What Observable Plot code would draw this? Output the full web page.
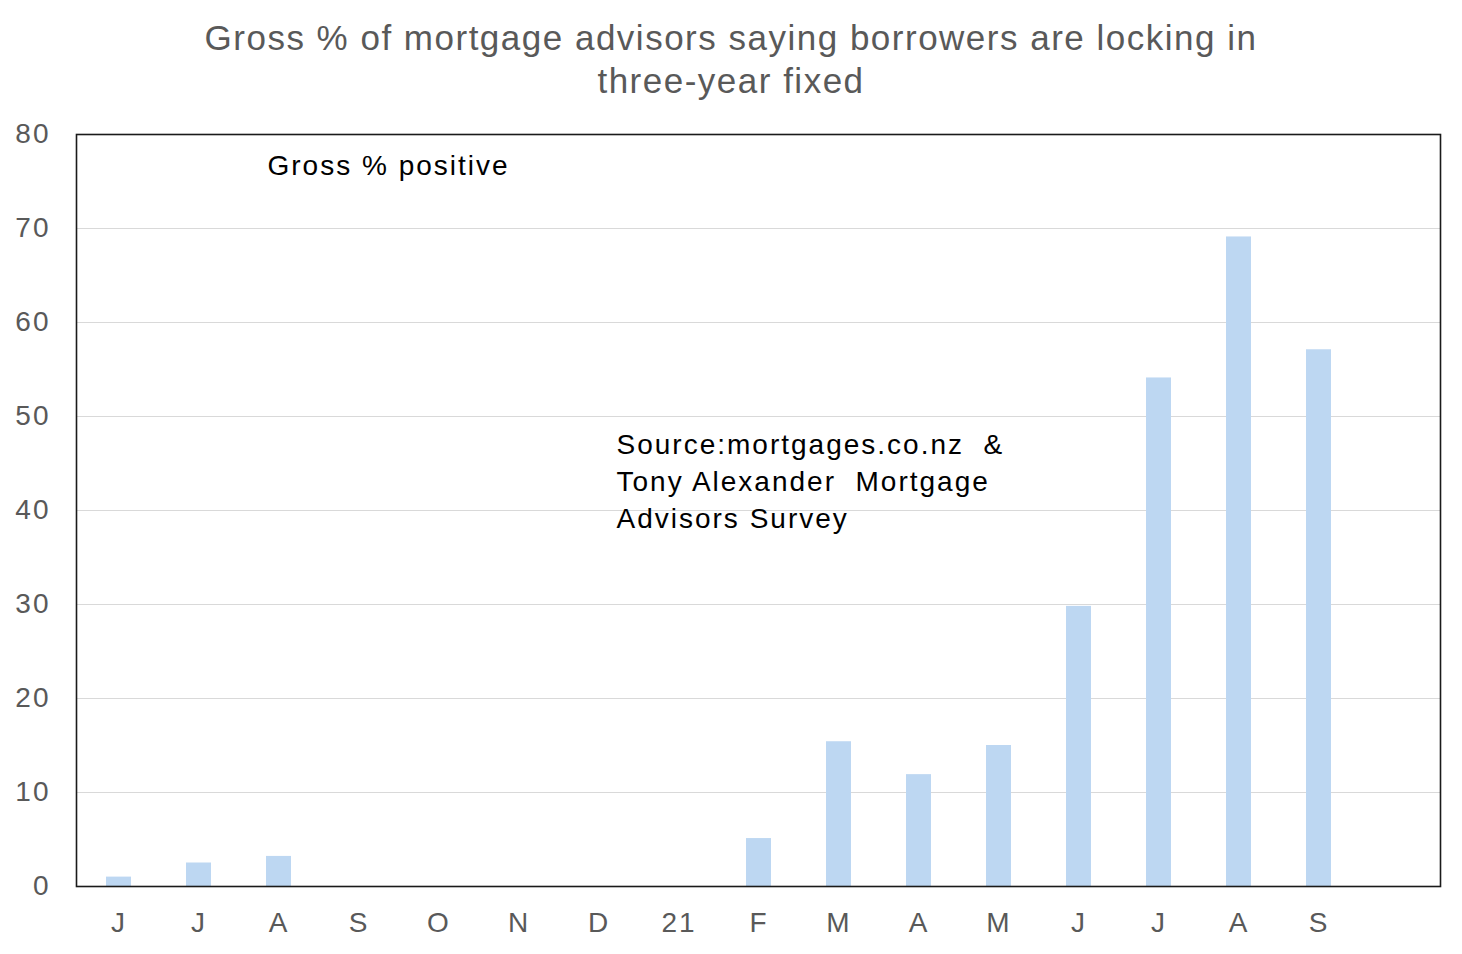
<!DOCTYPE html>
<html>
<head>
<meta charset="utf-8">
<script src="https://cdn.jsdelivr.net/npm/d3@7"></script>
<script src="https://cdn.jsdelivr.net/npm/@observablehq/plot@0.6"></script>
<style>
  html, body { margin: 0; padding: 0; background: #fff; }
  #title { font-family: "Liberation Sans", Arial, sans-serif; font-size: 35px; color: #595959; letter-spacing: 1.5px;
           text-align: center; line-height: 43px; padding-top: 16px; height: 86px; width: 1462px; }
  svg { display: block; }
</style>
</head>
<body>
<div id="title">Gross % of mortgage advisors saying borrowers are locking in<br>three-year fixed</div>
<div id="chart"></div>
<script>
const months = ["2020-06","2020-07","2020-08","2020-09","2020-10","2020-11","2020-12","2021-01","2021-02","2021-03","2021-04","2021-05","2021-06","2021-07","2021-08","2021-09","2021-10"];
const tickLabels = ["J","J","A","S","O","N","D","21","F","M","A","M","J","J","A","S",""];
const grossPositive = [1.0, 2.5, 3.2, null, null, null, null, null, 5.1, 15.4, 11.9, 15.0, 29.8, 54.1, 69.1, 57.1, null];
const yTicks = [0, 10, 20, 30, 40, 50, 60, 70, 80];
const gridTicks = [10, 20, 30, 40, 50, 60, 70];
const seriesLabel = "Gross % positive";
const sourceNote = "Source:mortgages.co.nz  &\nTony Alexander  Mortgage\nAdvisors Survey";

const data = months.map((m, i) => ({month: m, value: grossPositive[i]})).filter(d => d.value != null);
const labelOf = new Map(months.map((m, i) => [m, tickLabels[i]]));

const chart = Plot.plot({
  width: 1462,
  height: 852,
  marginTop: 32,
  marginBottom: 68,
  marginLeft: 76,
  marginRight: 22,
  style: {fontFamily: "Liberation Sans, Arial, sans-serif", fontSize: "28px", color: "#595959", background: "#fff", letterSpacing: "2px"},
  x: {domain: months, paddingInner: 0.69, paddingOuter: 0.345, align: 0.5},
  y: {domain: [0, 80]},
  marks: [
    Plot.gridY(gridTicks, {stroke: "#d9d9d9", strokeOpacity: 1, strokeWidth: 1.2}),
    Plot.barY(data, {x: "month", y: "value", fill: "#bdd7f2"}),
    Plot.frame({stroke: "#1a1a1a", strokeWidth: 1.6}),
    Plot.axisY(yTicks, {tickSize: 0, tickPadding: 26, label: null, fontSize: 28}),
    Plot.axisX(months, {tickSize: 0, tickPadding: 26, label: null, fontSize: 28, tickFormat: d => labelOf.get(d)}),
    Plot.text([seriesLabel], {frameAnchor: "top-left", dx: 191, dy: 32, lineAnchor: "middle", textAnchor: "start", fill: "#000", fontSize: 28}),
    Plot.text([sourceNote], {frameAnchor: "top-left", dx: 540, dy: 345, lineAnchor: "middle", textAnchor: "start", fill: "#000", fontSize: 28, lineHeight: 1.32})
  ]
});
document.getElementById("chart").appendChild(chart);
</script>
</body>
</html>
